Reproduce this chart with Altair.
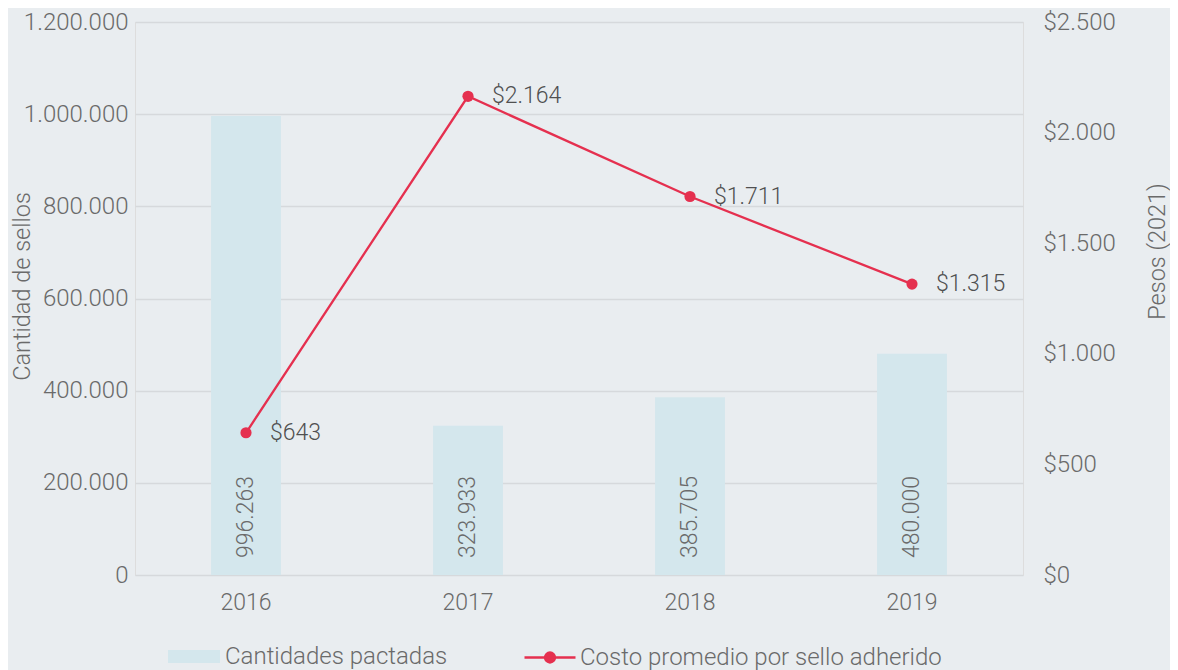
import altair as alt
import pandas as pd

years = ["2016", "2017", "2018", "2019"]
cantidades = [996263, 323933, 385705, 480000]
costos = [643, 2164, 1711, 1315]
serie_barras = "Cantidades pactadas"
serie_linea = "Costo promedio por sello adherido"
left_ticks = [0, 200000, 400000, 600000, 800000, 1000000, 1200000]
right_ticks = [0, 500, 1000, 1500, 2000, 2500]

df = pd.DataFrame({
    "year": years,
    "cantidad": cantidades,
    "costo": costos,
    "sb": [serie_barras] * len(years),
    "sl": [serie_linea] * len(years),
    "zero": [0] * len(years),
})

FONT = "Roboto"
RED = "#e5304f"
BAR = "#d4e7ed"
BG = "#e9edf0"
GRID = "#d6d9dc"
LABEL = "#6a6a6a"
DARK = "#505050"

x = alt.X(
    "year:N", title=None,
    scale=alt.Scale(paddingInner=0.685, paddingOuter=0.3425),
    axis=alt.Axis(labelAngle=0, labelPadding=16, ticks=False, domain=False, grid=False,
                  labelFontSize=23, labelColor=LABEL, labelFont=FONT, labelFontWeight=300),
)

left_axis = alt.Axis(
    values=left_ticks, format=",d", grid=True, gridColor=GRID, gridWidth=1.5,
    ticks=False, domain=False, labelPadding=7, orient="left",
    labelFont=FONT, labelFontSize=24, labelFontWeight=300, labelColor=LABEL,
    title="Cantidad de sellos", titleX=-106, titleY=264, titleAngle=270,
    titleBaseline="alphabetic", titleAlign="center", titleFont=FONT,
    titleFontSize=23.5, titleFontWeight=300, titleColor=LABEL,
)
right_axis = alt.Axis(
    values=right_ticks, format="$,d", grid=False,
    ticks=False, domain=False, labelPadding=20, orient="right",
    labelFont=FONT, labelFontSize=24, labelFontWeight=300, labelColor=LABEL,
    title="Pesos (2021)", titleX=141, titleY=229, titleAngle=270,
    titleBaseline="alphabetic", titleAlign="center", titleFont=FONT,
    titleFontSize=23.5, titleFontWeight=300, titleColor=LABEL,
)

yl_scale = alt.Scale(domain=[0, 1200000], nice=False)
yr_scale = alt.Scale(domain=[0, 2500], nice=False)

base = alt.Chart(df)

leg1 = alt.Legend(
    title=None, orient="none", legendX=33, legendY=608.5, padding=0,
    symbolType="M-1,-0.25H1V0.25H-1Z", symbolSize=2704, symbolStrokeWidth=0,
    symbolOpacity=1, labelFont=FONT, labelFontSize=24, labelFontWeight=300,
    labelColor=LABEL, labelOffset=5, labelLimit=600,
)
leg2 = alt.Legend(
    title=None, orient="none", legendX=388, legendY=608.5, padding=0,
    symbolType="M-1,0H1M0.196,0A0.196,0.196 0 1,1 -0.196,0A0.196,0.196 0 1,1 0.196,0Z",
    symbolSize=2601, symbolStrokeColor=RED, symbolStrokeWidth=2.3, symbolOpacity=1,
    labelFont=FONT, labelFontSize=24, labelFontWeight=300,
    labelColor=LABEL, labelOffset=3, labelLimit=600,
)

bars = base.mark_bar().encode(
    x=x,
    y=alt.Y("cantidad:Q", scale=yl_scale, axis=left_axis),
    color=alt.Color("sb:N", scale=alt.Scale(range=[BAR]), legend=leg1),
)
bar_text = base.mark_text(
    angle=270, align="left", baseline="middle", dx=17,
    font=FONT, fontSize=23, fontWeight=300, color=LABEL,
).encode(
    x=x,
    y=alt.Y("zero:Q", scale=yl_scale, axis=left_axis),
    text=alt.Text("cantidad:Q", format=",d"),
)

line = base.mark_line(color=RED, strokeWidth=2.3).encode(
    x=x,
    y=alt.Y("costo:Q", scale=yr_scale, axis=right_axis),
)
points = base.mark_circle(size=125, opacity=1).encode(
    x=x,
    y=alt.Y("costo:Q", scale=yr_scale, axis=right_axis),
    fill=alt.Fill("sl:N", scale=alt.Scale(range=[RED]), legend=leg2),
)
ptext = base.mark_text(
    align="left", baseline="middle", dx=24,
    font=FONT, fontSize=23, fontWeight=300, color=DARK,
).encode(
    x=x,
    y=alt.Y("costo:Q", scale=yr_scale, axis=right_axis),
    text=alt.Text("costo:Q", format="$,d"),
)

chart = alt.layer(
    alt.layer(bars, bar_text),
    alt.layer(line, points, ptext),
).resolve_scale(y="independent").properties(
    width=888, height=553,
    autosize=alt.AutoSizeParams(type="none"),
    padding={"left": 127, "top": 14, "right": 147, "bottom": 95},
    background=BG,
).configure_view(stroke=None).configure(
    locale={"number": {"decimal": ",", "thousands": ".", "grouping": [3], "currency": ["$", ""]}}
)

chart.save("out.html", embed_options={"renderer": "svg", "actions": False})
